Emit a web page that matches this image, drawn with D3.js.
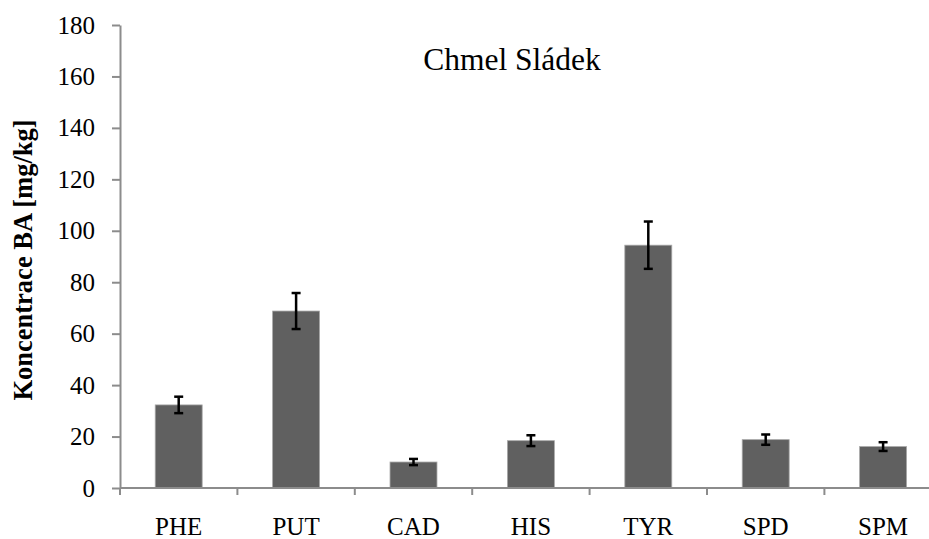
<!DOCTYPE html>
<html>
<head>
<meta charset="utf-8">
<script src="https://cdn.jsdelivr.net/npm/d3@7"></script>
<style>
  html, body { margin: 0; padding: 0; background: #fff; }
  svg { display: block; }
  text { font-family: "Liberation Serif", "Times New Roman", serif; fill: #000; }
</style>
</head>
<body>
<svg id="chart" width="929" height="539"></svg>
<script>
// Biogenic amine concentrations in hops (Chmel Sládek)
const categories = ["PHE", "PUT", "CAD", "HIS", "TYR", "SPD", "SPM"];
const values     = [32.3, 68.8, 10.1, 18.4, 94.4, 18.8, 16.1];
const errors     = [3.2, 7.0, 1.2, 2.1, 9.2, 2.0, 1.7];
const yTicks     = [0, 20, 40, 60, 80, 100, 120, 140, 160, 180];
const title      = "Chmel Sládek";
const yTitle     = "Koncentrace BA [mg/kg]";

const svg = d3.select("#chart");
const axisColor = "#8c8c8c";

const x = d3.scaleBand()
  .domain(categories)
  .range([120, 120 + 7 * 117.4])
  .paddingInner(0.6)
  .paddingOuter(0.3);

const y = d3.scaleLinear().domain([0, 180]).range([488, 25]);

// bars
svg.append("g").selectAll("rect")
  .data(categories)
  .join("rect")
  .attr("x", d => x(d))
  .attr("width", x.bandwidth())
  .attr("y", (d, i) => y(values[i]))
  .attr("height", (d, i) => y(0) - y(values[i]))
  .attr("fill", "#606060")
  .attr("stroke", "#a8a8a8")
  .attr("stroke-width", 0.8);

// error bars
const eb = svg.append("g").attr("stroke", "#000").attr("stroke-width", 2.5);
categories.forEach((c, i) => {
  const cx = x(c) + x.bandwidth() / 2;
  const top = y(values[i] + errors[i]);
  const bot = y(values[i] - errors[i]);
  eb.append("line").attr("x1", cx).attr("x2", cx).attr("y1", top).attr("y2", bot);
  eb.append("line").attr("x1", cx - 4.5).attr("x2", cx + 4.5).attr("y1", top).attr("y2", top);
  eb.append("line").attr("x1", cx - 4.5).attr("x2", cx + 4.5).attr("y1", bot).attr("y2", bot);
});

// y axis
const yAxis = svg.append("g")
  .attr("transform", "translate(120,0)")
  .call(d3.axisLeft(y).tickValues(yTicks).tickSize(8).tickPadding(17).tickSizeOuter(0));
yAxis.select(".domain").attr("stroke", axisColor).attr("stroke-width", 2);
yAxis.selectAll(".tick line").attr("stroke", axisColor).attr("stroke-width", 2);
yAxis.selectAll(".tick text")
  .style("font-family", "'Liberation Serif', 'Times New Roman', serif")
  .style("font-size", "25px")
  .attr("fill", "#000");

// x axis with ticks on category boundaries
const xAxisG = svg.append("g").attr("transform", `translate(0,${y(0)})`);
const step = x.step();
const x0 = x.range()[0];
xAxisG.append("line")
  .attr("x1", x0).attr("x2", x.range()[1])
  .attr("stroke", axisColor).attr("stroke-width", 2);
xAxisG.selectAll("line.tk")
  .data(d3.range(categories.length + 1))
  .join("line")
  .attr("class", "tk")
  .attr("x1", i => x0 + i * step).attr("x2", i => x0 + i * step)
  .attr("y1", 0).attr("y2", 7)
  .attr("stroke", axisColor).attr("stroke-width", 2);
xAxisG.selectAll("text")
  .data(categories)
  .join("text")
  .attr("x", d => x(d) + x.bandwidth() / 2)
  .attr("y", 47)
  .attr("text-anchor", "middle")
  .style("font-size", "25px")
  .text(d => d);

// chart title
svg.append("text")
  .attr("x", 512)
  .attr("y", 70)
  .attr("text-anchor", "middle")
  .style("font-size", "31.5px")
  .text(title);

// y axis title
svg.append("text")
  .attr("transform", "translate(32,260) rotate(-90)")
  .attr("text-anchor", "middle")
  .style("font-size", "26.5px")
  .style("font-weight", "bold")
  .text(yTitle);
</script>
</body>
</html>
